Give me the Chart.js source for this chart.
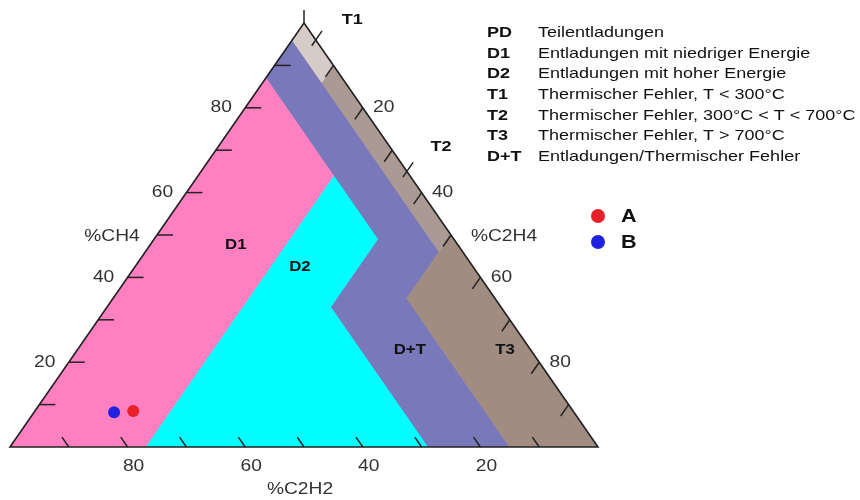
<!DOCTYPE html>
<html>
<head>
<meta charset="utf-8">
<script src="https://cdn.jsdelivr.net/npm/chart.js@4/dist/chart.umd.min.js"></script>
<style>
  html, body { margin: 0; padding: 0; background: #fff; }
  #wrap { width: 860px; height: 500px; position: relative; }
</style>
</head>
<body>
<div id="wrap"><canvas id="duval"></canvas></div>
<script>
// Zonen des Duval-Dreiecks, Eckpunkte als [%CH4, %C2H4, %C2H2]
const zoneT1 = [[100, 0, 0], [90, 10, 0], [86, 10, 4], [96, 0, 4]];
const zoneT2 = [[90, 10, 0], [50, 50, 0], [46, 50, 4], [86, 10, 4]];
const zoneT3 = [[50, 50, 0], [0, 100, 0], [0, 85, 15], [35, 50, 15], [46, 50, 4]];
const zoneD1 = [[87, 0, 13], [64, 23, 13], [0, 23, 77], [0, 0, 100]];
const zoneD2 = [[64, 23, 13], [49, 38, 13], [33, 38, 29], [0, 71, 29], [0, 23, 77]];
const zoneDT = [[96, 0, 4], [86, 10, 4], [46, 50, 4], [35, 50, 15], [0, 85, 15],
                [0, 71, 29], [33, 38, 29], [49, 38, 13], [64, 23, 13], [87, 0, 13]];

// Legende
const zoneCodes = ['PD', 'D1', 'D2', 'T1', 'T2', 'T3', 'D+T'];
const zoneTexts = [
  'Teilentladungen',
  'Entladungen mit niedriger Energie',
  'Entladungen mit hoher Energie',
  'Thermischer Fehler, T < 300°C',
  'Thermischer Fehler, 300°C < T < 700°C',
  'Thermischer Fehler, T > 700°C',
  'Entladungen/Thermischer Fehler'
];

// Messpunkte
const sampleNames = ['A', 'B'];
const sampleCH4 = [8.5, 8.2];
const sampleC2H4 = [16.7, 13.6];
const sampleC2H2 = [74.8, 78.2];

// Achsenbeschriftung
const tickValues = [20, 40, 60, 80];
const minorTicks = [10, 20, 30, 40, 50, 60, 70, 80, 90];

const FONT = "'Liberation Sans', Arial, sans-serif";
const SX = 1.2; // Bild ist horizontal gestreckt

// ternär -> x/y im Diagramm
function tern(ch4, c2h4, c2h2) {
  return { x: c2h4 + ch4 / 2, y: ch4 };
}
function polygon(list) {
  const pts = list.map(p => tern(p[0], p[1], p[2]));
  pts.push(pts[0]);
  return pts;
}
function zoneDataset(label, list, color) {
  return {
    type: 'line', label: label, data: polygon(list),
    backgroundColor: color, borderColor: color, borderWidth: 1,
    pointRadius: 0, fill: 'shape', tension: 0
  };
}

function text(ctx, str, x, y, font, color, align) {
  ctx.save();
  ctx.translate(x, y);
  ctx.scale(SX, 1);
  ctx.font = font;
  ctx.fillStyle = color;
  ctx.textAlign = align || 'center';
  ctx.textBaseline = 'middle';
  ctx.fillText(str, 0, 0);
  ctx.restore();
}

const zoneLabels = [
  { t: 'D1', x: 38.4, y: 47.6 },
  { t: 'D2', x: 49.3, y: 42.5 },
  { t: 'D+T', x: 68.0, y: 22.9 },
  { t: 'T3', x: 84.2, y: 22.9 },
  { t: 'T1', x: 58.2, y: 100.7 },
  { t: 'T2', x: 73.3, y: 70.8 }
];

const dreieckPlugin = {
  id: 'dreieck',
  afterDatasetsDraw(chart) {
    const ctx = chart.ctx;
    const sx = chart.scales.x, sy = chart.scales.y;
    const px = p => ({ x: sx.getPixelForValue(p.x), y: sy.getPixelForValue(p.y) });
    const seg = (a, b) => { ctx.beginPath(); ctx.moveTo(a.x, a.y); ctx.lineTo(b.x, b.y); ctx.stroke(); };
    const along = (from, to, len) => {
      const dx = to.x - from.x, dy = to.y - from.y, d = Math.hypot(dx, dy);
      return { x: dx / d * len, y: dy / d * len };
    };

    ctx.save();
    ctx.strokeStyle = '#222';
    ctx.lineWidth = 1.5;

    minorTicks.forEach(v => {
      // %CH4 links
      let e = px(tern(v, 0, 100 - v)), o = px(tern(v, 100 - v, 0));
      let d = along(e, o, 16);
      seg(e, { x: e.x + d.x, y: e.y + d.y });
      // %C2H4 rechts
      e = px(tern(100 - v, v, 0)); o = px(tern(0, v, 100 - v));
      d = along(e, o, 14);
      seg(e, { x: e.x + d.x, y: e.y + d.y });
      // %C2H2 unten
      e = px(tern(0, 100 - v, v)); o = px(tern(100 - v, 0, v));
      d = along(e, o, 12);
      seg(e, { x: e.x + d.x, y: e.y + d.y });
    });

    // Zeiger für PD, T1, T2
    const apex = px(tern(100, 0, 0));
    seg(apex, { x: apex.x, y: apex.y - 13 });
    [4, 35].forEach(v => {
      const e = px(tern(100 - v, v, 0)), o = px(tern(0, v, 100 - v));
      const d = along(e, o, 1);
      seg({ x: e.x + d.x * 7, y: e.y + d.y * 7 }, { x: e.x - d.x * 11, y: e.y - d.y * 11 });
    });
    ctx.restore();

    // Skalenwerte
    const tf = '16px ' + FONT, tc = '#333';
    tickValues.forEach(v => {
      let e = px(tern(v, 0, 100 - v));
      text(ctx, String(v), e.x - 24, e.y, tf, tc);
      e = px(tern(100 - v, v, 0));
      text(ctx, String(v), e.x + 21, e.y, tf, tc);
      e = px(tern(0, 100 - v, v));
      text(ctx, String(v), e.x + 6, e.y + 20, tf, tc);
    });
    text(ctx, '%CH4', 112, 237, tf, tc);
    text(ctx, '%C2H4', 504, 237, tf, tc);
    text(ctx, '%C2H2', 300, 490, tf, tc);

    zoneLabels.forEach(l => {
      const p = px(l);
      const big = l.t === 'T1' || l.t === 'T2';
      text(ctx, l.t, p.x, p.y, 'bold ' + (big ? 15 : 14) + 'px ' + FONT, '#111');
    });

    // Legende Zonen
    zoneCodes.forEach((c, i) => {
      const y = 33 + i * 20.6;
      text(ctx, c, 487, y, 'bold 15px ' + FONT, '#111', 'left');
      text(ctx, zoneTexts[i], 538, y, '15px ' + FONT, '#111', 'left');
    });

    // Legende Messpunkte
    sampleNames.forEach((n, i) => {
      const ds = chart.data.datasets[i];
      const y = 216 + i * 26;
      ctx.beginPath();
      ctx.fillStyle = ds.backgroundColor;
      ctx.arc(598, y, 7, 0, Math.PI * 2);
      ctx.fill();
      text(ctx, n, 621, y + 1, 'bold 18px ' + FONT, '#111', 'left');
    });
  }
};

new Chart(document.getElementById('duval'), {
  type: 'scatter',
  data: {
    datasets: [
      {
        label: sampleNames[0],
        data: [tern(sampleCH4[0], sampleC2H4[0], sampleC2H2[0])],
        backgroundColor: '#e8202a', borderWidth: 0, pointRadius: 6
      },
      {
        label: sampleNames[1],
        data: [tern(sampleCH4[1], sampleC2H4[1], sampleC2H2[1])],
        backgroundColor: '#2020e0', borderWidth: 0, pointRadius: 6
      },
      {
        type: 'line', label: 'Dreieck',
        data: polygon([[100, 0, 0], [0, 100, 0], [0, 0, 100]]),
        borderColor: '#222', borderWidth: 1.6, pointRadius: 0,
        fill: false, clip: false, tension: 0
      },
      zoneDataset('T1', zoneT1, '#d6cbc6'),
      zoneDataset('T2', zoneT2, '#ab9a94'),
      zoneDataset('T3', zoneT3, '#a18c82'),
      zoneDataset('D1', zoneD1, '#ff80c0'),
      zoneDataset('D2', zoneD2, '#00ffff'),
      zoneDataset('D+T', zoneDT, '#7878bb')
    ]
  },
  options: {
    responsive: true,
    maintainAspectRatio: false,
    animation: false,
    layout: { padding: { left: 10, right: 262, top: 23, bottom: 53 } },
    scales: {
      x: { type: 'linear', min: 0, max: 100, display: false },
      y: { type: 'linear', min: 0, max: 100, display: false }
    },
    plugins: {
      legend: { display: false },
      tooltip: { enabled: false }
    }
  },
  plugins: [dreieckPlugin]
});
</script>
</body>
</html>
